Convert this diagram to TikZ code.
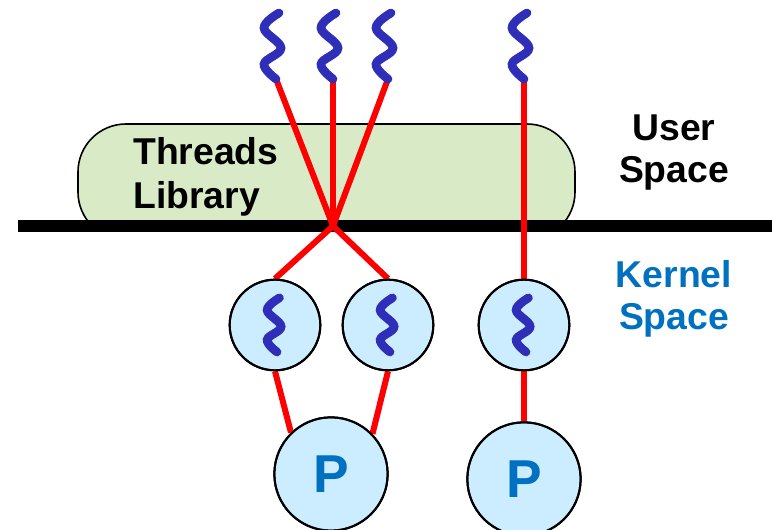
\documentclass[tikz,border=0pt]{standalone}
\usepackage{fontspec}
\setmainfont{Liberation Sans}
\usetikzlibrary{calc}
\definecolor{libgreen}{RGB}{217,235,198}
\definecolor{circblue}{RGB}{204,236,255}
\definecolor{wigblue}{RGB}{46,46,184}
\definecolor{kblue}{RGB}{0,112,192}
\tikzset{
  redline/.style={red, line width=4.5pt},
  kcirc/.style={circle, draw=black, line width=1.5pt, fill=circblue, minimum size=68pt, inner sep=0pt},
  pcirc/.style={circle, draw=black, line width=1.5pt, fill=circblue, minimum size=85pt, inner sep=0pt, text=kblue, font=\bfseries\fontsize{40}{44}\selectfont},
  lbl/.style={font=\bfseries\fontsize{28}{32}\selectfont, inner sep=0pt},
  wiggle/.pic={\draw[wigblue, line width=6.5pt, line cap=round] plot[smooth, tension=0.65] coordinates {(3,-66) (-12,-51) (5,-31) (-12,-15) (0,0)};}
}
\begin{document}
\begin{tikzpicture}[x=0.75pt,y=-0.75pt]
\useasboundingbox (0,0) rectangle (772,530);
% threads library
\draw[fill=libgreen, line width=1.2pt, rounded corners=36pt] (78,124) rectangle (575,240);
\fill[white] (0,232) rectangle (772,250);
\node[lbl, anchor=base west] (thr) at (133,165) {Threads};
\node[lbl, anchor=base west] (lib) at (133,209) {Library};
\node[lbl, anchor=base] (us1) at (674,141) {User};
\node[lbl, anchor=base] (us2) at (674,183) {Space};
\node[lbl, anchor=base, text=kblue] (ks1) at (674,288) {Kernel};
\node[lbl, anchor=base, text=kblue] (ks2) at (674,330) {Space};
% boundary
\draw[line width=9pt] (18,226) coordinate (bl) -- (772,226) coordinate (br);
% thread ends
\coordinate (t1) at (276,79);
\coordinate (t2) at (333,79);
\coordinate (t3) at (388,79);
\coordinate (t4) at (524,79);
\coordinate (x) at (333,226);
% kernel circles and processors
\node[kcirc] (k1) at (275,325) {};
\node[kcirc] (k2) at (388,325) {};
\node[kcirc] (k3) at (524,325) {};
\node[pcirc] (p1) at (331,474) {P};
\node[pcirc] (p2) at (524,479) {P};
% red connectors
\draw[redline] (t1) -- (x);
\draw[redline] (t2) -- (x);
\draw[redline] (t3) -- (x);
\draw[redline] (x) -- (k1.north);
\draw[redline] (x) -- (k2.north);
\draw[redline] (t4) -- (k3.north);
\draw[redline] (k1.south) -- (p1.134);
\draw[redline] (k2.south) -- (p1.44);
\draw[redline] (k3.south) -- (p2.north);
% redraw circle outlines over line ends
\draw[line width=1.5pt] (k1) circle[radius=34pt] (k2) circle[radius=34pt] (k3) circle[radius=34pt];
\draw[line width=1.5pt] (p1) circle[radius=42.5pt] (p2) circle[radius=42.5pt];
% wiggles
\pic at (t1) {wiggle};
\pic at (t2) {wiggle};
\pic at (t3) {wiggle};
\pic at (t4) {wiggle};
\pic[scale=0.82] at ($(k1)+(2,27)$) {wiggle};
\pic[scale=0.82] at ($(k2)+(2,27)$) {wiggle};
\pic[scale=0.82] at ($(k3)+(2,27)$) {wiggle};
\end{tikzpicture}
\end{document}
